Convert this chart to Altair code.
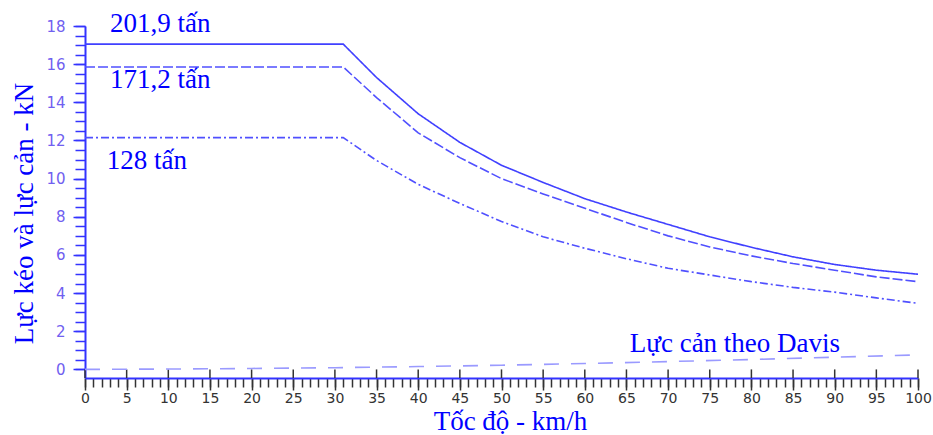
import altair as alt
import pandas as pd

# ---- data ----
speed = [0, 31, 35, 40, 45, 50, 55, 60, 65, 70, 75, 80, 85, 90, 95, 100]
force_201 = [17.05, 17.05, 15.3, 13.4, 11.9, 10.7, 9.8, 8.95, 8.25, 7.6, 6.95, 6.4, 5.9, 5.5, 5.2, 4.99]
force_171 = [15.85, 15.85, 14.25, 12.4, 11.1, 10.0, 9.2, 8.45, 7.7, 7.0, 6.42, 5.95, 5.55, 5.2, 4.85, 4.6]
force_128 = [12.15, 12.15, 10.95, 9.7, 8.7, 7.75, 6.95, 6.35, 5.8, 5.3, 4.95, 4.6, 4.3, 4.05, 3.75, 3.46]
davis_speed = [0, 10, 20, 30, 40, 50, 60, 70, 80, 90, 100]
davis_force = [0.0, 0.02, 0.05, 0.09, 0.15, 0.22, 0.31, 0.41, 0.52, 0.64, 0.76]

series_names = ["201,9 tấn", "171,2 tấn", "128 tấn", "Davis"]

labels = ["201,9 tấn", "171,2 tấn", "128 tấn", "Lực cản theo Davis"]
label_x = [3.0, 3.0, 2.6, 65.4]
label_y = [17.66, 14.73, 10.5, 0.93]

x_major = list(range(0, 101, 5))
x_minor = list(range(0, 101, 1))
y_major = list(range(0, 19, 2))
y_minor = [i * 0.5 for i in range(0, 37)]
y_min, y_max = -0.45, 18

# ---- build tables ----
rows = []
for name, vals in zip(series_names[:3], [force_201, force_171, force_128]):
    for v, f in zip(speed, vals):
        rows.append({"series": name, "v": v, "F": f})
for v, f in zip(davis_speed, davis_force):
    rows.append({"series": "Davis", "v": v, "F": f})
df = pd.DataFrame(rows)

lab_df = pd.DataFrame({"label": labels, "v": label_x, "F": label_y})
tick_df = pd.DataFrame({"v": x_major, "lo": [y_min] * len(x_major), "hi": [0] * len(x_major)})

xscale = alt.Scale(domain=[0, 100], nice=False, zero=False)
yscale = alt.Scale(domain=[y_min, y_max], nice=False, zero=False)

serif = "Liberation Serif"
sans = "DejaVu Sans"
blue_txt = "#0000ff"
axis_blue = "#3333ff"
title_size = 27

lines = alt.Chart(df).mark_line(strokeWidth=1.6).encode(
    x=alt.X("v:Q", scale=xscale, axis=alt.Axis(
        values=x_major, tickSize=12, tickColor="#333333", tickWidth=1.5,
        domainColor=axis_blue, domainWidth=2, grid=False, orient="bottom",
        labelFont=sans, labelFontSize=14, labelColor="#333333", labelPadding=1,
        labelFlush=False,
        title="Tốc độ - km/h", titleFont=serif, titleFontSize=title_size,
        titleFontWeight="normal", titleColor=blue_txt, titleX=425, titleY=51,
        titleBaseline="alphabetic", titleAlign="center")),
    y=alt.Y("F:Q", scale=yscale, axis=alt.Axis(
        values=y_major, tickSize=12, tickColor=axis_blue, tickWidth=1.5,
        domainColor=axis_blue, domainWidth=2, grid=False, orient="left",
        labelFont=sans, labelFontSize=15, labelColor="#7060f0", labelPadding=8,
        labelFlush=False,
        title="Lực kéo và lực cản - kN", titleFont=serif, titleFontSize=title_size,
        titleFontWeight="normal", titleColor=blue_txt, titleX=-53, titleY=187,
        titleAngle=270, titleBaseline="alphabetic", titleAlign="center")),
    detail="series:N",
    color=alt.Color("series:N", scale=alt.Scale(
        domain=series_names, range=["#4040ff", "#5050ff", "#5050ff", "#9a9aff"]), legend=None),
    strokeDash=alt.StrokeDash("series:N", scale=alt.Scale(
        domain=series_names, range=[[1, 0], [10, 3], [8, 3, 2, 3], [15, 12]]), legend=None),
)

minor = alt.Chart(df).mark_point(opacity=0).encode(
    x=alt.X("v:Q", scale=xscale, axis=alt.Axis(
        values=x_minor, tickSize=9, tickColor="#333333", tickWidth=1.5,
        labels=False, domain=False, grid=False, title="", orient="bottom")),
    y=alt.Y("F:Q", scale=yscale, axis=alt.Axis(
        values=y_minor, tickSize=10, tickColor=axis_blue, tickWidth=1.5,
        labels=False, domain=False, grid=False, title="", orient="left")),
)

cross_ticks = alt.Chart(tick_df).mark_rule(color="#333333", strokeWidth=1.5).encode(
    x=alt.X("v:Q", scale=xscale, axis=None),
    y=alt.Y("lo:Q", scale=yscale, axis=None),
    y2="hi:Q",
)

texts = alt.Chart(lab_df).mark_text(
    font=serif, fontSize=title_size, color=blue_txt, align="left", baseline="alphabetic"
).encode(
    x=alt.X("v:Q", scale=xscale, axis=None),
    y=alt.Y("F:Q", scale=yscale, axis=None),
    text="label:N",
)

chart = alt.layer(minor, cross_ticks, lines, texts).resolve_axis(
    x="independent", y="independent"
).properties(
    width=833, height=352,
    autosize=alt.AutoSizeParams(type="none"),
    padding={"left": 85, "top": 26, "right": 15, "bottom": 57},
    background="white",
).configure_view(stroke=None)

chart.save("out.html", embed_options={"renderer": "svg", "actions": False})
